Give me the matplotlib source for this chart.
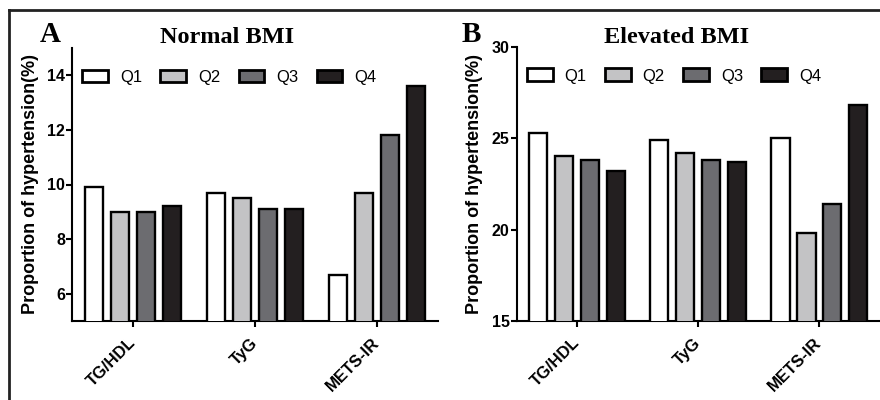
import matplotlib
matplotlib.use("Agg")
import matplotlib.pyplot as plt
from matplotlib.lines import Line2D
import numpy as np

categories = ["TG/HDL", "TyG", "METS-IR"]
quartiles = ["Q1", "Q2", "Q3", "Q4"]
normal_bmi = {
    "Q1": [9.9, 9.7, 6.7],
    "Q2": [9.0, 9.5, 9.7],
    "Q3": [9.0, 9.1, 11.8],
    "Q4": [9.2, 9.1, 13.6],
}
elevated_bmi = {
    "Q1": [25.3, 24.9, 25.0],
    "Q2": [24.0, 24.2, 19.8],
    "Q3": [23.8, 23.8, 21.4],
    "Q4": [23.2, 23.7, 26.8],
}
colors = ["#ffffff", "#c3c3c5", "#6c6c70", "#231f20"]

sans = ["Liberation Sans", "DejaVu Sans"]
serif = ["Liberation Serif", "DejaVu Serif"]

fig = plt.figure(figsize=(8.8, 4.0), dpi=100)

def panel(rect, data, ylim, yticks):
    ax = fig.add_axes(rect)
    x = np.arange(len(categories))
    step = 0.214
    width = 0.15
    for i, q in enumerate(quartiles):
        ax.bar(x + (i - 1.5) * step, data[q], width=width, bottom=0,
               color=colors[i], edgecolor="black", linewidth=1.7, label=q,
               zorder=3)
    ax.set_xlim(-0.5, 2.5)
    ax.set_ylim(*ylim)
    ax.set_yticks(yticks)
    ax.set_xticks(x)
    ax.set_xticklabels(categories, rotation=45, ha="right", va="center",
                       rotation_mode="anchor", fontsize=12,
                       fontweight="bold", family=sans)
    for lab in ax.get_yticklabels():
        lab.set_fontsize(11.5)
        lab.set_fontweight("bold")
        lab.set_family(sans)
    ax.spines["top"].set_visible(False)
    ax.spines["right"].set_visible(False)
    ax.spines["left"].set_linewidth(1.5)
    ax.spines["bottom"].set_linewidth(1.5)
    ax.tick_params(axis="both", direction="out", length=4, width=1.5, pad=1)
    ax.tick_params(axis="x", pad=10)
    ax.set_ylabel("Proportion of hypertension(%)", fontsize=13,
                  fontweight="bold", family=sans, labelpad=6)
    leg = ax.legend(loc="upper left", bbox_to_anchor=(0.01, 0.945),
                    ncol=4, frameon=False, handlelength=1.54,
                    handleheight=0.8, handletextpad=0.72,
                    columnspacing=1.1, borderaxespad=0,
                    prop={"family": sans, "size": 12})
    for h in leg.legend_handles:
        h.set_linewidth(2)
    return ax

axA = panel([0.0818, 0.1975, 0.416, 0.6825], normal_bmi, (5, 15), [6, 8, 10, 12, 14])
axB = panel([0.587, 0.1975, 0.413, 0.6858], elevated_bmi, (15, 30), [15, 20, 25, 30])

fig.text(0.2576, 0.907, "Normal BMI", ha="center", va="center",
         fontsize=17.5, fontweight="bold", family=serif)
fig.text(0.769, 0.907, "Elevated BMI", ha="center", va="center",
         fontsize=17.5, fontweight="bold", family=serif)
fig.text(0.0575, 0.915, "A", ha="center", va="center",
         fontsize=21, fontweight="bold", family=serif)
fig.text(0.536, 0.915, "B", ha="center", va="center",
         fontsize=21, fontweight="bold", family=serif)

# outer frame lines (top and left)
fig.add_artist(Line2D([0.0105, 1.0], [0.975, 0.975], transform=fig.transFigure,
                      color="#222222", linewidth=2))
fig.add_artist(Line2D([0.0105, 0.0105], [0.0, 0.975], transform=fig.transFigure,
                      color="#222222", linewidth=2))

fig.savefig("out.png", dpi=100)
